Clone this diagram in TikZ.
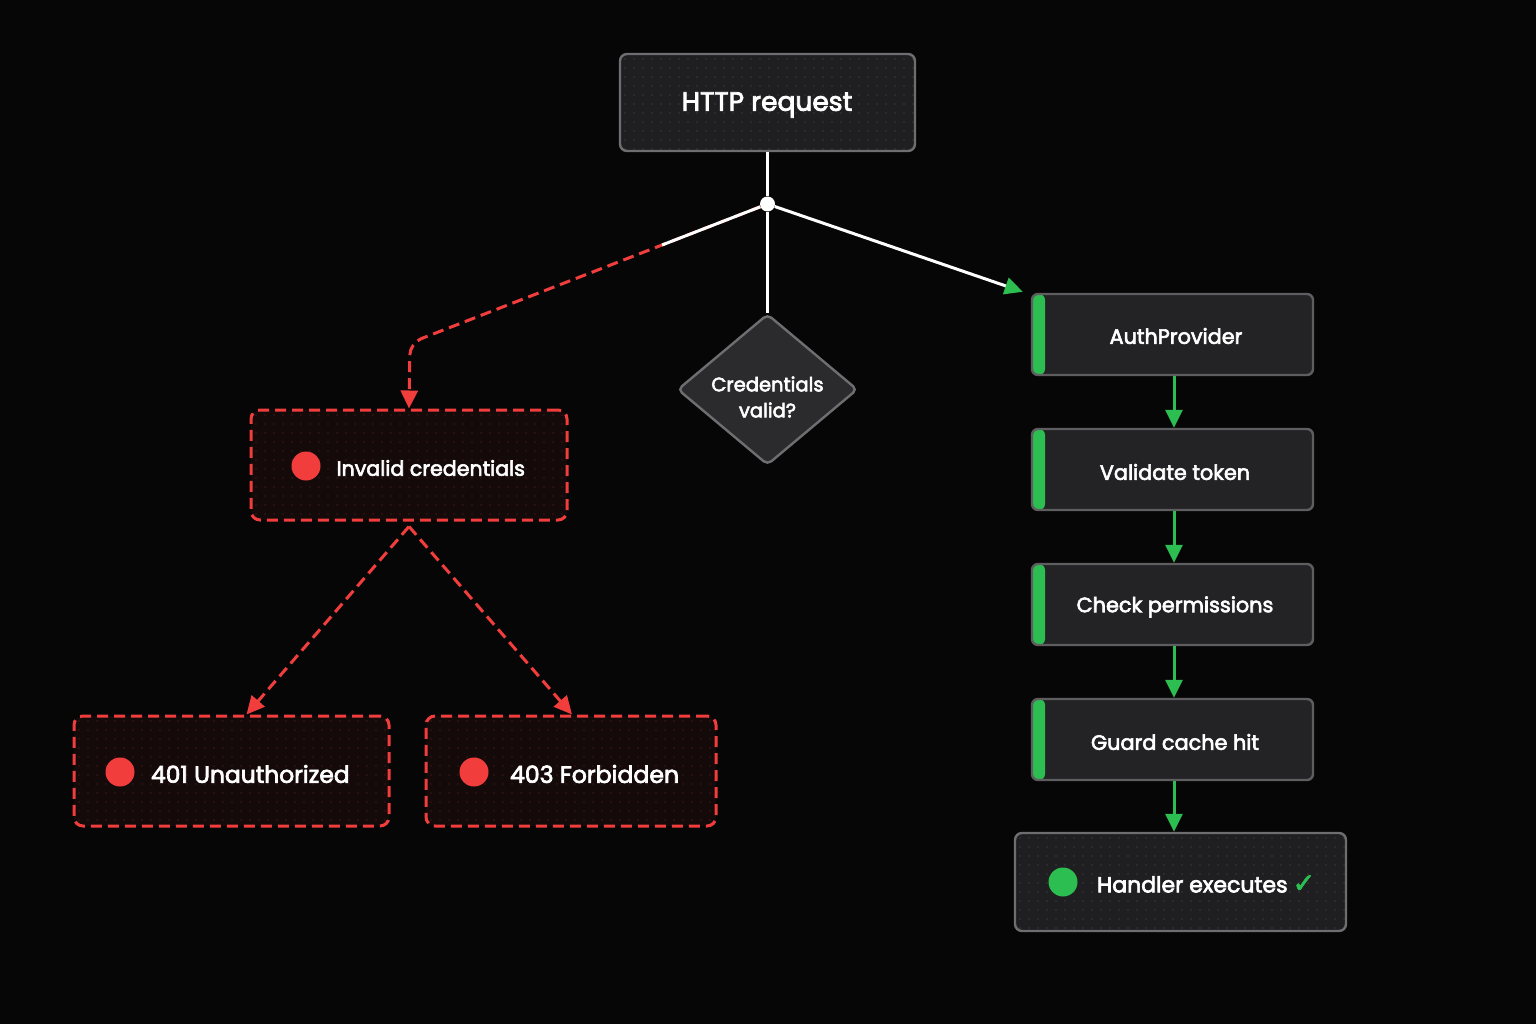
\documentclass[tikz,border=0pt]{standalone}
\usepackage{fontspec}
\setmainfont{Poppins}
\newfontfamily\medfont{Poppins}[FakeBold=3]
\newfontfamily\symfont{DejaVu Sans}[FakeBold=2.5]
\usetikzlibrary{arrows.meta,shapes.geometric,calc}
\definecolor{bgc}{HTML}{060606}
\definecolor{boxfill}{HTML}{1F1F21}
\definecolor{chainfill}{HTML}{232325}
\definecolor{diafill}{HTML}{2B2B2D}
\definecolor{bordc}{HTML}{6E6E70}
\definecolor{chainbord}{HTML}{5E5E60}
\definecolor{dotc}{HTML}{38383A}
\definecolor{redc}{HTML}{F23D3D}
\definecolor{redfill}{HTML}{150A0A}
\definecolor{reddot}{HTML}{3E1818}
\definecolor{greenc}{HTML}{2DBE52}
\tikzset{
  dotgrid/.style={path picture={
    \foreach \i in {1,...,37} \foreach \j in {1,...,12}
      \fill[#1] ([shift={(\i*9pt-4pt,-\j*9pt+4pt)}]path picture bounding box.north west) circle (0.8pt);
  }},
  plainbox/.style={draw=bordc, line width=2.4pt, fill=boxfill, rounded corners=7pt, text=white, dotgrid=dotc},
  errbox/.style={draw=redc, line width=3pt, dash pattern=on 11pt off 6pt, fill=redfill, rounded corners=9pt, dotgrid=reddot},
  chainbox/.style={draw=chainbord, line width=2.4pt, fill=chainfill, rounded corners=6pt, minimum width=281pt, minimum height=81pt,
    path picture={\fill[greenc] (path picture bounding box.north west) rectangle ([xshift=13pt]path picture bounding box.south west);}},
  chaintext/.style={text=white, font=\medfont\fontsize{20.8}{24}\selectfont},
  wline/.style={draw=white, line width=3pt},
  redline/.style={draw=redc, line width=3pt, dash pattern=on 11pt off 6pt},
  greenline/.style={draw=greenc, line width=3pt},
  redtip/.style={-{Triangle[length=18pt,width=17pt,color=redc]}},
  greentip/.style={-{Triangle[length=18pt,width=17pt,color=greenc]}},
  lamp/.style={circle, inner sep=0pt, minimum size=29pt, fill=#1},
}
\begin{document}
\begin{tikzpicture}[x=1pt,y=-1pt]
\fill[bgc] (0,0) rectangle (1536,1024);
\useasboundingbox (0,0) rectangle (1536,1024);

% top
\node[plainbox, minimum width=295pt, minimum height=97pt] (http) at (767.5,102.5) {};
\node[text=white, font=\medfont\fontsize{26.5}{30}\selectfont] (httpt) at (767,105) {HTTP request};
\node[circle, fill=white, inner sep=0pt, minimum size=15pt] (jn) at (767.5,204) {};

% decision
\node[diamond, draw=bordc, line width=2.4pt, fill=diafill, rounded corners=5pt, minimum width=180pt, minimum height=151pt, inner sep=0pt] (dec) at (767.5,389.5) {};
\node[text=white, align=center, font=\medfont\fontsize{19.5}{26}\selectfont] (dect) at (767.5,397) {Credentials\\valid?};

% error boxes
\node[errbox, minimum width=316pt, minimum height=110pt] (inv) at (409,465) {};
\node[lamp=redc] (invd) at (306,466) {};
\node[anchor=west, text=white, font=\medfont\fontsize{20.6}{24}\selectfont] (invt) at (333,468) {Invalid credentials};

\node[errbox, minimum width=315pt, minimum height=110pt] (u401) at (231.5,771) {};
\node[lamp=redc] (u401d) at (120,772) {};
\node[anchor=west, text=white, font=\medfont\fontsize{23.4}{26}\selectfont] (u401t) at (147.5,774) {401 Unauthorized};

\node[errbox, minimum width=290pt, minimum height=110pt] (f403) at (571,771) {};
\node[lamp=redc] (f403d) at (474,772) {};
\node[anchor=west, text=white, font=\medfont\fontsize{23.6}{26}\selectfont] (f403t) at (506.5,774) {403 Forbidden};

% chain
\node[chainbox] (auth) at (1172.5,334.5) {};
\node[chaintext] at (1176,336) {AuthProvider};
\node[chainbox] (val) at (1172.5,469.5) {};
\node[chaintext] at (1175,472) {Validate token};
\node[chainbox] (chk) at (1172.5,604.5) {};
\node[chaintext] at (1175,607) {Check permissions};
\node[chainbox] (grd) at (1172.5,739.5) {};
\node[chaintext] at (1175,742) {Guard cache hit};

\node[plainbox, minimum width=331pt, minimum height=98pt] (hnd) at (1180.5,882) {};
\node[lamp=greenc] (hndd) at (1063,882) {};
\node[anchor=west, text=white, font=\medfont\fontsize{22}{26}\selectfont] (hndt) at (1093.5,884) {Handler executes\hspace{5pt}{\color{greenc}\symfont\fontsize{27}{26}\selectfont ✓}};

% connectors
\draw[wline] (http.south) -- (jn);
\draw[wline] (jn) -- (dec.north);
\coordinate (bend) at (410,343);
\coordinate (wend) at ($(jn)!0.295!(bend)$);
\draw[redline, redtip, rounded corners=12pt] (jn) -- (bend) -- (inv.north);
\draw[wline] (jn) -- (wend);
\draw[wline, greentip] (jn) -- ([xshift=-8pt,yshift=1pt]auth.north west);

\draw[redline, redtip] ([yshift=-5pt]inv.south) -- ([xshift=15pt]u401.north);
\draw[redline, redtip] ([yshift=-5pt]inv.south) -- ([xshift=1pt]f403.north);

\draw[greenline, greentip] ([xshift=1.5pt]auth.south) -- ([xshift=1.5pt]val.north);
\draw[greenline, greentip] ([xshift=1.5pt]val.south) -- ([xshift=1.5pt]chk.north);
\draw[greenline, greentip] ([xshift=1.5pt]chk.south) -- ([xshift=1.5pt]grd.north);
\draw[greenline, greentip] ([xshift=1.5pt]grd.south) -- ([xshift=-6.5pt]hnd.north);
\end{tikzpicture}
\end{document}
